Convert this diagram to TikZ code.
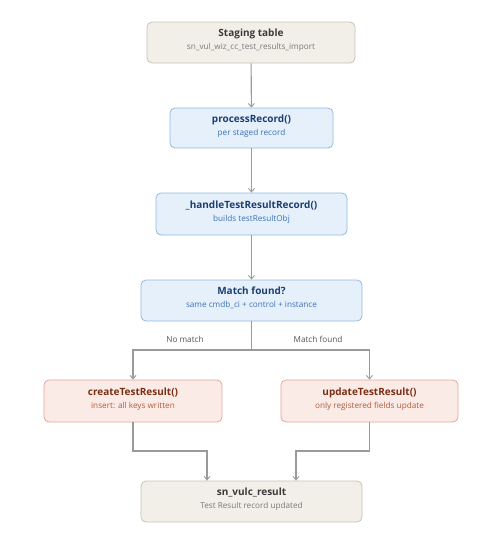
\documentclass[tikz,border=0pt]{standalone}
\usepackage{fontspec}
\setmainfont{Open Sans}
\usetikzlibrary{arrows.meta}
\definecolor{grayfill}{HTML}{F2EFE9}
\definecolor{graydraw}{HTML}{C8C2B8}
\definecolor{graytitle}{HTML}{3A3A3A}
\definecolor{graysub}{HTML}{7A7A7A}
\definecolor{bluefill}{HTML}{E5F0FB}
\definecolor{bluedraw}{HTML}{94B9E0}
\definecolor{bluetitle}{HTML}{1B3F73}
\definecolor{bluesub}{HTML}{3B73B9}
\definecolor{redfill}{HTML}{FBEBE6}
\definecolor{reddraw}{HTML}{E2A899}
\definecolor{redtitle}{HTML}{7A2E14}
\definecolor{redsub}{HTML}{B35A3C}
\definecolor{edgecol}{HTML}{9A9A9A}
\definecolor{lblcol}{HTML}{555555}
\tikzset{
  box/.style={draw, rounded corners=5pt, line width=0.8pt, inner sep=0pt},
  graybox/.style={box, fill=grayfill, draw=graydraw},
  bluebox/.style={box, fill=bluefill, draw=bluedraw},
  redbox/.style={box, fill=redfill, draw=reddraw},
  ttl/.style={anchor=base, inner sep=0pt, font=\fontsize{10}{12}\selectfont\bfseries},
  sub/.style={anchor=base, inner sep=0pt, font=\fontsize{8.2}{10}\selectfont},
  conn/.style={draw=edgecol, line width=1.1pt, -{Straight Barb[length=3.5pt,width=6pt,line width=0.9pt]}},
  lbl/.style={inner sep=0pt, text=lblcol, font=\fontsize{8.2}{10}\selectfont}
}
\begin{document}
\begin{tikzpicture}[x=1pt,y=-1pt]
\useasboundingbox (0,0) rectangle (503,555);
\fill[white] (0,0) rectangle (503,555);
% boxes
\node[graybox, minimum width=208pt, minimum height=41pt] (stg) at (251,42.5) {};
\node[bluebox, minimum width=163pt, minimum height=40pt] (proc) at (251.5,128) {};
\node[bluebox, minimum width=191pt, minimum height=42pt] (hand) at (251.5,214) {};
\node[bluebox, minimum width=221pt, minimum height=41pt] (match) at (251.5,300.5) {};
\node[redbox, minimum width=178pt, minimum height=42pt] (create) at (133,401) {};
\node[redbox, minimum width=177pt, minimum height=42pt] (update) at (369.5,401) {};
\node[graybox, minimum width=221pt, minimum height=41pt] (res) at (251.5,501.5) {};
% texts
\node[ttl, text=graytitle] (stgT) at ([yshift=6pt]stg.center) {Staging table};
\node[sub, text=graysub] (stgS) at ([yshift=-7pt]stg.center) {sn\_vul\_wiz\_cc\_test\_results\_import};
\node[ttl, text=bluetitle] (procT) at ([yshift=6pt]proc.center) {processRecord()};
\node[sub, text=bluesub] (procS) at ([yshift=-7pt]proc.center) {per staged record};
\node[ttl, text=bluetitle] (handT) at ([yshift=6pt]hand.center) {\_handleTestResultRecord()};
\node[sub, text=bluesub] (handS) at ([yshift=-7pt]hand.center) {builds testResultObj};
\node[ttl, text=bluetitle] (matchT) at ([yshift=6pt]match.center) {Match found?};
\node[sub, text=bluesub] (matchS) at ([yshift=-7pt]match.center) {same cmdb\_ci + control + instance};
\node[ttl, text=redtitle] (createT) at ([yshift=6pt]create.center) {createTestResult()};
\node[sub, text=redsub] (createS) at ([yshift=-7pt]create.center) {insert: all keys written};
\node[ttl, text=redtitle] (updateT) at ([yshift=6pt]update.center) {updateTestResult()};
\node[sub, text=redsub] (updateS) at ([yshift=-7pt]update.center) {only registered fields update};
\node[ttl, text=graytitle] (resT) at ([yshift=6pt]res.center) {sn\_vulc\_result};
\node[sub, text=graysub] (resS) at ([yshift=-7pt]res.center) {Test Result record updated};
% branch labels
\node[lbl] (nomatch) at (185,339) {No match};
\node[lbl] (found) at (318,339) {Match found};
% connectors
\coordinate (split) at (251.5,350);
\coordinate (ml) at (207,451);
\coordinate (mr) at (296,451);
\draw[conn] (stg) -- (proc);
\draw[conn] (proc) -- (hand);
\draw[conn] (hand) -- (match);
\draw[draw=edgecol, line width=1.1pt] (match) -- (split);
\draw[conn] (split) -| (create);
\draw[conn] (split) -| (update);
\draw[conn] (create.south) |- (ml) -- (ml |- res.north);
\draw[conn] (update.south) |- (mr) -- (mr |- res.north);
\end{tikzpicture}
\end{document}
